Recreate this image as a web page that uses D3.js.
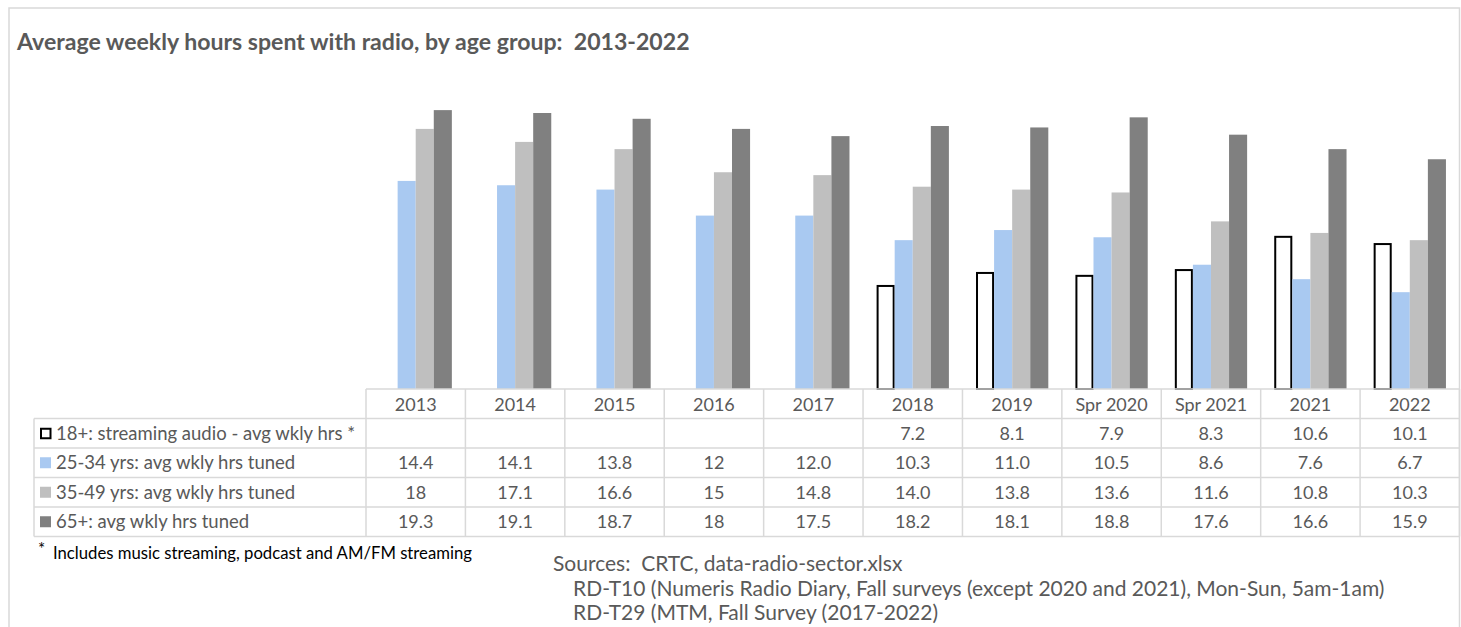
<!DOCTYPE html>
<html>
<head>
<meta charset="utf-8">
<script src="https://cdn.jsdelivr.net/npm/d3@7"></script>
<style>
  html, body { margin: 0; padding: 0; background: #fff; }
  svg { display: block; font-family: Lato, "Open Sans", sans-serif; }
  svg text { white-space: pre; }
</style>
</head>
<body>
<svg id="chart" width="1461" height="627"></svg>
<script>
// Survey periods (table columns)
const periods = ["2013", "2014", "2015", "2016", "2017", "2018", "2019", "Spr 2020", "Spr 2021", "2021", "2022"];

// Series labels
const seriesNames = [
  "18+: streaming audio - avg wkly hrs *",
  "25-34 yrs: avg wkly hrs tuned",
  "35-49 yrs: avg wkly hrs tuned",
  "65+: avg wkly hrs tuned"
];

// Values per series (null = not surveyed)
const streaming18  = [null, null, null, null, null, 7.2, 8.1, 7.9, 8.3, 10.6, 10.1];
const tuned25to34  = [14.4, 14.1, 13.8, 12, 12.0, 10.3, 11.0, 10.5, 8.6, 7.6, 6.7];
const tuned35to49  = [18, 17.1, 16.6, 15, 14.8, 14.0, 13.8, 13.6, 11.6, 10.8, 10.3];
const tuned65plus  = [19.3, 19.1, 18.7, 18, 17.5, 18.2, 18.1, 18.8, 17.6, 16.6, 15.9];

// Text shown in the data table (keeps the original number formatting)
const tableText = [
  ["", "", "", "", "", "7.2", "8.1", "7.9", "8.3", "10.6", "10.1"],
  ["14.4", "14.1", "13.8", "12", "12.0", "10.3", "11.0", "10.5", "8.6", "7.6", "6.7"],
  ["18", "17.1", "16.6", "15", "14.8", "14.0", "13.8", "13.6", "11.6", "10.8", "10.3"],
  ["19.3", "19.1", "18.7", "18", "17.5", "18.2", "18.1", "18.8", "17.6", "16.6", "15.9"]
];

const titleText = "Average weekly hours spent with radio, by age group:  2013-2022";
const footnoteText = "Includes music streaming, podcast and AM/FM streaming";
const sourceLines = [
  "Sources:  CRTC, data-radio-sector.xlsx",
  "RD-T10 (Numeris Radio Diary, Fall surveys (except 2020 and 2021), Mon-Sun, 5am-1am)",
  "RD-T29 (MTM, Fall Survey (2017-2022)"
];

const seriesValues = [streaming18, tuned25to34, tuned35to49, tuned65plus];
const fills   = ["#ffffff", "#a9c9f1", "#bfbfbf", "#808080"];
const strokes = ["#000000", null, null, null];

const svg = d3.select("#chart");
const textColor = "#595959";
const gridColor = "#d9d9d9";

// Outer chart frame
svg.append("rect")
  .attr("x", 9).attr("y", 8).attr("width", 1450.5).attr("height", 640)
  .attr("fill", "none").attr("stroke", gridColor).attr("stroke-width", 1.5);

// Title
svg.append("text")
  .attr("x", 17).attr("y", 50)
  .attr("fill", textColor)
  .attr("font-size", 23.1).attr("font-weight", 700)
  .text(titleText);

// Scales
const plotLeft = 366, plotRight = 1459.5, baseY = 389;
const x = d3.scaleBand().domain(periods).range([plotLeft, plotRight]).paddingInner(0).paddingOuter(0);
const y = d3.scaleLinear().domain([0, 25]).range([baseY, baseY - 25 * 14.45]);

// Excel-like clustered columns with 150% gap width
const groupWidth = x.bandwidth();
const barW = groupWidth / (seriesValues.length + 1.5);
const inner = d3.scaleBand()
  .domain(d3.range(seriesValues.length))
  .range([barW * 0.75, barW * 0.75 + barW * seriesValues.length]);

const barsData = [];
seriesValues.forEach((vals, si) => {
  vals.forEach((v, pi) => {
    if (v !== null) barsData.push({ si, period: periods[pi], v });
  });
});

svg.append("g").selectAll("rect")
  .data(barsData)
  .join("rect")
  .attr("x", d => x(d.period) + inner(d.si) + (strokes[d.si] ? 1 : 0))
  .attr("y", d => y(d.v) + (strokes[d.si] ? 1 : 0))
  .attr("width", d => inner.bandwidth() - (strokes[d.si] ? 2 : 0))
  .attr("height", d => baseY - y(d.v) - (strokes[d.si] ? 1 : 0))
  .attr("fill", d => fills[d.si])
  .attr("stroke", d => strokes[d.si] || "none")
  .attr("stroke-width", 2);

// Data table
const rowTops = [389, 418.5, 448, 477.5, 507, 536.5];
const legendLeft = 34;
const table = svg.append("g");

// Horizontal grid lines
rowTops.forEach((ry, i) => {
  table.append("line")
    .attr("x1", i === 0 ? plotLeft : legendLeft).attr("x2", plotRight)
    .attr("y1", ry).attr("y2", ry)
    .attr("stroke", gridColor).attr("stroke-width", 1.5);
});
// Vertical grid lines
const colEdges = periods.map(p => x(p)).concat([plotRight]);
colEdges.forEach(cx => {
  table.append("line")
    .attr("x1", cx).attr("x2", cx)
    .attr("y1", rowTops[0]).attr("y2", rowTops[rowTops.length - 1])
    .attr("stroke", gridColor).attr("stroke-width", 1.5);
});
table.append("line")
  .attr("x1", legendLeft).attr("x2", legendLeft)
  .attr("y1", rowTops[1]).attr("y2", rowTops[rowTops.length - 1])
  .attr("stroke", gridColor).attr("stroke-width", 1.5);

// Column headers
table.selectAll("text.hdr")
  .data(periods)
  .join("text")
  .attr("class", "hdr")
  .attr("x", d => x(d) + x.bandwidth() / 2)
  .attr("y", (rowTops[0] + rowTops[1]) / 2 + 6.8)
  .attr("text-anchor", "middle")
  .attr("font-size", 18)
  .attr("fill", textColor)
  .text(d => d);

// Row legends and values
seriesNames.forEach((name, si) => {
  const cy = (rowTops[si + 1] + rowTops[si + 2]) / 2;
  table.append("rect")
    .attr("x", strokes[si] ? 41 : 40).attr("y", cy - 5.5 + (strokes[si] ? 1 : 0))
    .attr("width", strokes[si] ? 9.5 : 11).attr("height", strokes[si] ? 9.5 : 11)
    .attr("fill", fills[si])
    .attr("stroke", strokes[si] || "none")
    .attr("stroke-width", 2);
  table.append("text")
    .attr("x", 56).attr("y", cy + 6.6)
    .attr("font-size", 18.5)
    .attr("fill", textColor)
    .text(name);
  table.selectAll(null)
    .data(periods)
    .join("text")
    .attr("x", d => x(d) + x.bandwidth() / 2)
    .attr("y", cy + 6.5)
    .attr("text-anchor", "middle")
    .attr("font-size", 18)
    .attr("fill", textColor)
    .text((d, pi) => tableText[si][pi]);
});

// Footnote
svg.append("text")
  .attr("x", 38).attr("y", 555)
  .attr("font-size", 17).attr("fill", "#000")
  .text("*");
svg.append("text")
  .attr("x", 53).attr("y", 559)
  .attr("font-size", 16.7).attr("fill", "#000")
  .text(footnoteText);

// Sources
sourceLines.forEach((line, i) => {
  svg.append("text")
    .attr("x", i === 0 ? 553 : 573)
    .attr("y", 571 + i * 24.5)
    .attr("font-size", 21)
    .attr("fill", textColor)
    .text(line);
});
</script>
</body>
</html>
